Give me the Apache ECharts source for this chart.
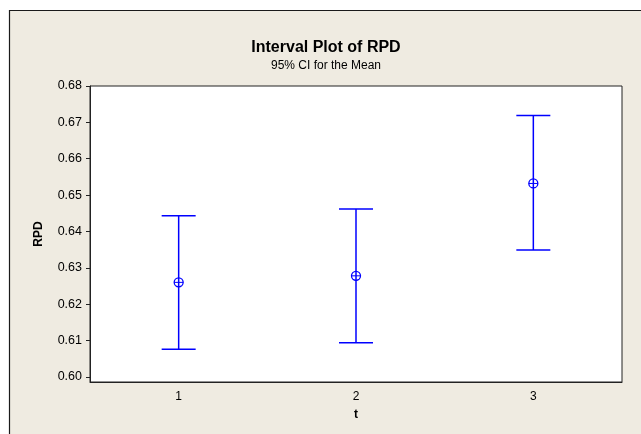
<!DOCTYPE html>
<html><head><meta charset="utf-8">
<script src="https://cdn.jsdelivr.net/npm/echarts@6/dist/echarts.min.js"></script>
<style>html,body{margin:0;padding:0;background:#fff}#c{width:641px;height:434px}</style>
</head><body><div id="c"></div>
<script>
var categories = ['1', '2', '3'];
var lowerCI = [0.6076, 0.6094, 0.6349];
var means = [0.6260, 0.6278, 0.6532];
var upperCI = [0.6443, 0.6462, 0.6719];
var yTicks = [0.60, 0.61, 0.62, 0.63, 0.64, 0.65, 0.66, 0.67, 0.68];

var chart = echarts.init(document.getElementById('c'), null, {renderer: 'canvas'});
var FONT = '"Liberation Sans", Arial, sans-serif';
var data = categories.map(function (c, i) { return [i, lowerCI[i], means[i], upperCI[i]]; });
var BLUE = '#0000FF';

chart.setOption({
  animation: false,
  backgroundColor: '#fff',
  graphic: [{
    type: 'rect', z: -10, silent: true,
    shape: {x: 9.5, y: 10.5, width: 700, height: 500},
    style: {fill: '#EFEBE1', stroke: '#1a1a1a', lineWidth: 1.2}
  }],
  title: [{
    text: 'Interval Plot of RPD', left: 321, top: 35, textAlign: 'center',
    textStyle: {fontFamily: FONT, fontSize: 16, fontWeight: 'bold', color: '#000'}
  }, {
    text: '95% CI for the Mean', left: 321, top: 55, textAlign: 'center',
    textStyle: {fontFamily: FONT, fontSize: 12, fontWeight: 'normal', color: '#000'}
  }],
  grid: {left: 90, right: 19, top: 86, bottom: 52, show: true, backgroundColor: '#fff', borderColor: '#222', borderWidth: 1},
  xAxis: {
    type: 'category', data: categories, boundaryGap: true,
    name: 't', nameLocation: 'middle', nameGap: 27,
    nameTextStyle: {fontFamily: FONT, fontSize: 12, fontWeight: 'bold', color: '#000'},
    axisLine: {lineStyle: {color: '#222', width: 1}},
    axisTick: {alignWithLabel: true, length: 5, lineStyle: {color: '#222'}},
    axisLabel: {fontFamily: FONT, fontSize: 12, color: '#000', margin: 9},
    splitLine: {show: false}
  },
  yAxis: {
    type: 'value', min: 0.5986, max: 0.68,
    name: 'RPD', nameLocation: 'middle', nameGap: 45, nameRotate: 90,
    nameTextStyle: {fontFamily: FONT, fontSize: 12, fontWeight: 'bold', color: '#000'},
    axisLine: {show: true, lineStyle: {color: '#222', width: 1}},
    axisTick: {show: true, length: 4, customValues: yTicks, lineStyle: {color: '#222'}},
    axisLabel: {fontFamily: FONT, fontSize: 12.5, color: '#000', margin: 8, customValues: yTicks,
      formatter: function (v) { return v.toFixed(2); }},
    splitLine: {show: false}
  },
  series: [{
    type: 'custom', data: data,
    renderItem: function (params, api) {
      var x = api.value(0);
      var lo = api.coord([x, api.value(1)]);
      var mid = api.coord([x, api.value(2)]);
      var hi = api.coord([x, api.value(3)]);
      var hw = 17, r = 4.5;
      var ls = {stroke: BLUE, lineWidth: 1.5};
      return {type: 'group', children: [
        {type: 'line', shape: {x1: lo[0], y1: lo[1], x2: hi[0], y2: hi[1]}, style: ls},
        {type: 'line', shape: {x1: lo[0] - hw, y1: lo[1], x2: lo[0] + hw, y2: lo[1]}, style: ls},
        {type: 'line', shape: {x1: hi[0] - hw, y1: hi[1], x2: hi[0] + hw, y2: hi[1]}, style: ls},
        {type: 'circle', shape: {cx: mid[0], cy: mid[1], r: r}, style: {fill: 'none', stroke: BLUE, lineWidth: 1.3}},
        {type: 'line', shape: {x1: mid[0] - r, y1: mid[1], x2: mid[0] + r, y2: mid[1]}, style: {stroke: BLUE, lineWidth: 1}}
      ]};
    }
  }]
});
</script></body></html>
